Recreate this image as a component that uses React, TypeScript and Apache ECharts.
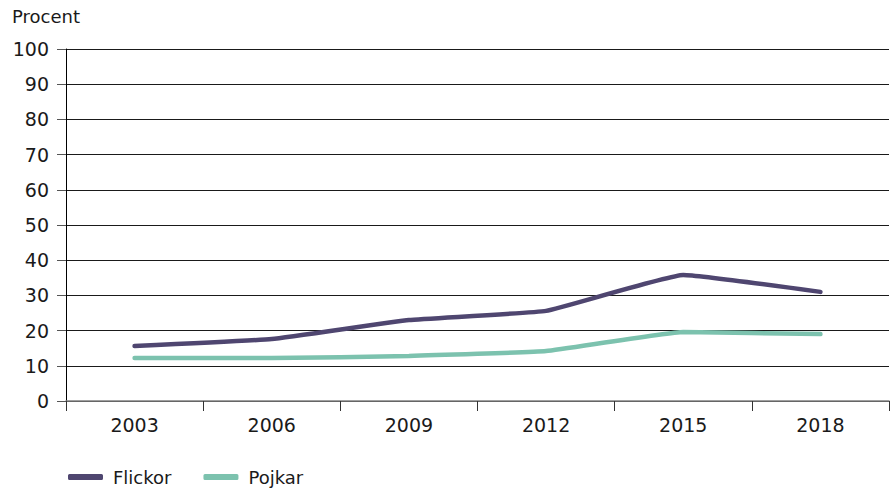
import React, { useEffect, useRef } from "react";
import * as echarts from "echarts";

const years = ["2003", "2006", "2009", "2012", "2015", "2018"];
const flickor = [15.6, 17.6, 23, 25.6, 35.8, 31];
const pojkar = [12.2, 12.2, 12.8, 14.2, 19.6, 19];
const yTicks = { min: 0, max: 100, interval: 10 };

const FONT = "'DejaVu Sans', sans-serif";

export default function App() {
  const ref = useRef<HTMLDivElement>(null);
  useEffect(() => {
    const chart = echarts.init(ref.current!, null, { renderer: "svg" });
    chart.setOption({
      animation: false,
      textStyle: { fontFamily: FONT },
      grid: { left: 66, right: 5, top: 49, bottom: 88 },
      graphic: [
        {
          type: "text",
          left: 12,
          top: 7,
          style: { text: "Procent", fontSize: 18, fill: "#1a1a1a", fontFamily: FONT },
        },
      ],
      legend: {
        top: 463,
        left: 63,
        itemWidth: 35,
        itemHeight: 6,
        itemGap: 32,
        icon: "roundRect",
        textStyle: { fontSize: 18, color: "#1a1a1a", fontFamily: FONT, padding: [0, 0, 0, 5] },
        data: ["Flickor", "Pojkar"],
      },
      xAxis: {
        type: "category",
        data: years,
        boundaryGap: true,
        axisLine: { lineStyle: { color: "#808080", width: 1.5 } },
        axisTick: { show: true, length: 10, lineStyle: { color: "#333", width: 1 } },
        axisLabel: { fontSize: 19, color: "#1a1a1a", margin: 14, fontFamily: FONT },
      },
      yAxis: {
        type: "value",
        min: yTicks.min,
        max: yTicks.max,
        interval: yTicks.interval,
        axisLine: { show: true, lineStyle: { color: "#000", width: 1 } },
        axisTick: { show: true, length: 9, lineStyle: { color: "#555" } },
        axisLabel: { fontSize: 19, color: "#1a1a1a", margin: 17, fontFamily: FONT },
        splitLine: { show: true, lineStyle: { color: "#1a1a1a", width: 1 } },
      },
      series: [
        {
          name: "Flickor",
          type: "line",
          data: flickor,
          smooth: 0.1,
          symbol: "none",
          lineStyle: { width: 4.5, color: "#4f4670", cap: "round" },
          itemStyle: { color: "#4f4670" },
        },
        {
          name: "Pojkar",
          type: "line",
          data: pojkar,
          smooth: 0.1,
          symbol: "none",
          lineStyle: { width: 4.5, color: "#7cc2ae", cap: "round" },
          itemStyle: { color: "#7cc2ae" },
        },
      ],
    });
    return () => chart.dispose();
  }, []);
  return <div ref={ref} style={{ width: 894, height: 489, position: "absolute", left: 0, top: 0 }} />;
}
